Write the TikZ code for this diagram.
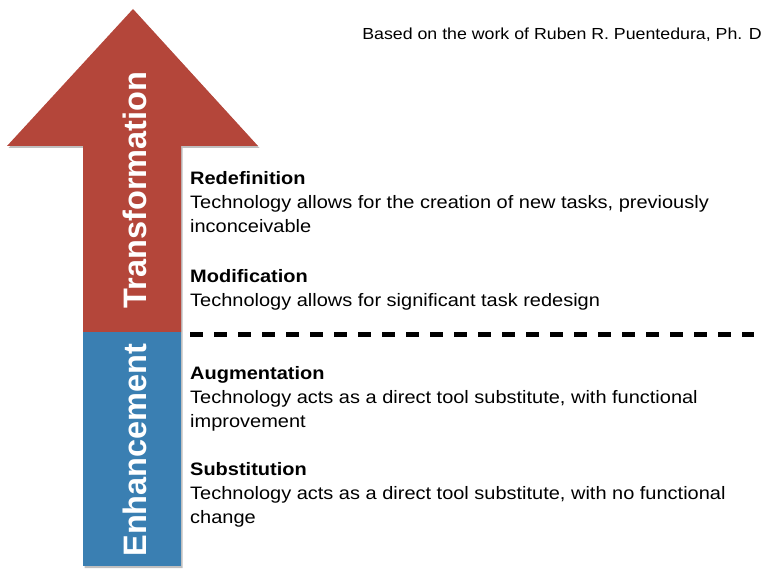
\documentclass[tikz,border=0pt]{standalone}
\usepackage{fontspec}
\setmainfont{Liberation Sans}
\newfontfamily\widefont[FakeStretch=1.11]{Liberation Sans}
\definecolor{samrred}{RGB}{180,70,58}
\definecolor{samrblue}{RGB}{58,127,178}
\tikzset{
  x=1pt, y=-1pt,
  heading/.style={anchor=base west, inner sep=0pt, font=\widefont\fontsize{18}{20}\selectfont\bfseries},
  body/.style={anchor=base west, inner sep=0pt, font=\widefont\fontsize{18}{20}\selectfont},
  vlabel/.style={rotate=90, text=white, inner sep=0pt, font=\fontsize{32.5}{36}\selectfont\bfseries},
  shade/.style={fill=black!25, draw=none},
}
\begin{document}
\begin{tikzpicture}
\useasboundingbox (0,0) rectangle (770,577);
% shadows
\fill[shade] (134.5,11) -- (259.5,148) -- (182.5,148) -- (182.5,568) -- (84.5,568) -- (84.5,148) -- (8.5,148) -- cycle;
% arrow
\fill[samrred] (133,9) -- (258,146) -- (181,146) -- (181,332) -- (83,332) -- (83,146) -- (7,146) -- cycle;
\fill[samrblue] (83,332) rectangle (181,566);
\node[vlabel] (trans) at (135,190) {Transformation};
\node[vlabel] (enh) at (135,450) {Enhancement};
% credit
\node[anchor=base east, inner sep=0pt, font=\widefont\fontsize{16}{18}\selectfont] (credit) at (762,40) {Based on the work of Ruben R. Puentedura, Ph. D};
% levels
\node[heading] (redef) at (190,185) {Redefinition};
\node[body] (redef1) at (190,209) {Technology allows for the creation of new tasks, previously};
\node[body] (redef2) at (190,233) {inconceivable};
\node[heading] (modif) at (190,282) {Modification};
\node[body] (modif1) at (190,306) {Technology allows for significant task redesign};
\coordinate (dashL) at (190,334);
\coordinate (dashR) at (754,334);
\draw[line width=5pt, dash pattern=on 12.5pt off 11.5pt] (dashL) -- (dashR);
\node[heading] (augm) at (190,379) {Augmentation};
\node[body] (augm1) at (190,403) {Technology acts as a direct tool substitute, with functional};
\node[body] (augm2) at (190,427) {improvement};
\node[heading] (subs) at (190,475) {Substitution};
\node[body] (subs1) at (190,499) {Technology acts as a direct tool substitute, with no functional};
\node[body] (subs2) at (190,523) {change};
\end{tikzpicture}
\end{document}
